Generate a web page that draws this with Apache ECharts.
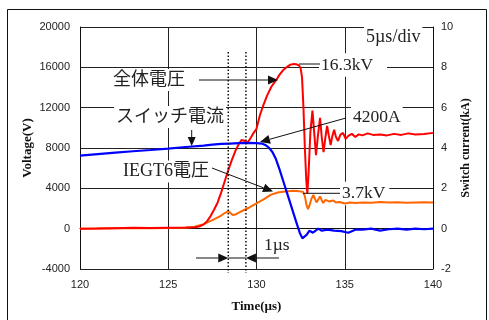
<!DOCTYPE html>
<html><head><meta charset="utf-8">
<script src="https://cdn.jsdelivr.net/npm/echarts@6/dist/echarts.min.js"></script>
<style>html,body{margin:0;padding:0;background:#fff}#c{width:489px;height:320px}</style>
</head><body><div id="c"></div>
<script>
// ---- data (time in µs) ----
const redTime = [120,121,122,123,124,125,126,126.5,126.8,127.0,127.2,127.4,127.6,127.8,128.0,128.2,128.4,128.6,128.8,129.0,129.15,129.25,129.35,129.47,129.6,129.8,130.0,130.2,130.4,130.6,130.85,131.1,131.32,131.5,131.7,131.9,132.07,132.25,132.4,132.5,132.58,132.66,132.74,132.82,132.88,132.95,133.05,133.17,133.27,133.37,133.48,133.6,133.7,133.8,133.9,134.0,134.1,134.2,134.3,134.4,134.5,134.62,134.75,134.9,135.05,135.2,135.4,135.6,135.8,136.0,136.3,136.6,137.0,137.4,137.8,138.2,138.6,139.0,139.5,140];
const redVoltage = [0,20,50,80,60,100,120,150,250,400,750,1250,1900,2600,3600,4700,5800,6800,7700,8400,8800,8950,8700,8500,8800,9400,9900,11300,12300,13200,14100,14700,15300,15700,16000,16250,16320,16300,16200,15900,15000,12000,8000,4800,3500,5500,9500,11700,9500,7300,9200,11000,9000,7600,9000,10200,9200,8300,9200,9800,9100,8700,9300,9500,8900,9200,9400,9100,9350,9250,9450,9300,9350,9250,9400,9300,9450,9350,9400,9500];

const blueTime = [120,121,122,123,124,125,126,127,127.5,128,128.5,129,129.5,130,130.3,130.5,130.7,130.9,131.1,131.3,131.5,131.7,131.9,132.1,132.3,132.45,132.6,132.7,132.85,133.0,133.1,133.2,133.35,133.5,133.7,134.0,134.4,134.8,135.2,135.6,136,136.5,137,137.5,138,138.5,139,139.5,140];
const blueCurrent = [3.62,3.70,3.77,3.84,3.90,3.97,4.05,4.12,4.17,4.20,4.22,4.24,4.25,4.24,4.22,4.15,4.02,3.80,3.45,2.95,2.40,1.85,1.30,0.75,0.20,-0.20,-0.48,-0.50,-0.30,-0.10,-0.05,-0.20,-0.10,0.00,-0.10,-0.05,-0.10,-0.12,-0.20,-0.05,-0.05,0.00,-0.10,-0.03,0.00,-0.05,0.00,-0.03,0.00];

const orangeTime = [120,122,124,125,126,126.5,127.0,127.5,128.0,128.2,128.4,128.5,128.65,128.8,129.0,129.3,129.6,130.0,130.4,130.8,131.2,131.5,131.8,132.1,132.4,132.64,132.74,132.84,132.92,133.0,133.1,133.22,133.3,133.4,133.5,133.6,133.7,133.78,133.9,134.0,134.1,134.2,134.35,134.5,134.7,135.0,135.3,135.6,136.0,136.5,137,137.5,138,138.5,139,139.5,140];
const orangeVoltage = [0,30,50,60,100,200,450,850,1300,1550,1750,1650,1350,1400,1600,1850,2100,2500,2900,3350,3580,3660,3700,3750,3720,3650,3200,2300,1950,2300,2900,3350,3000,2600,2900,3200,2800,2550,2850,2950,2700,2550,2800,2600,2650,2500,2600,2550,2600,2560,2650,2600,2620,2580,2600,2620,2600];

// axes
const timeTicks = [120,125,130,135,140];
const voltageTicks = [-4000,0,4000,8000,12000,16000,20000];
const currentTicks = [-2,0,2,4,6,8,10];
// dotted markers (µs)
const markerTimes = [128.4, 129.4];

const zip = (a,b)=>a.map((v,i)=>[v,b[i]]);
const serifJP = "'Liberation Serif','Noto Sans CJK JP'";
const axisFont = "'Liberation Sans', Arial, sans-serif";

const chart = echarts.init(document.getElementById('c'), null, {renderer:'canvas'});

function arrow(x1,y1,x2,y2,len,w){
  len = len||9; w = w||4;
  const dx=x2-x1, dy=y2-y1, d=Math.hypot(dx,dy), ux=dx/d, uy=dy/d;
  const bx=x2-ux*len, by=y2-uy*len;
  return [
    {type:'line', z:10, shape:{x1:x1,y1:y1,x2:bx,y2:by}, style:{stroke:'#111',lineWidth:1}},
    {type:'polygon', z:10, shape:{points:[[x2,y2],[bx-uy*w,by+ux*w],[bx+uy*w,by-ux*w]]}, style:{fill:'#111'}}
  ];
}
function label(text,x,y,size,pad){
  return {type:'text', z:1, x:x, y:y, style:{text:text, font:size+'px '+serifJP, fill:'#222', align:'left', verticalAlign:'middle', backgroundColor:'#fff', padding:pad||[2,2,2,2]}};
}
function seg(x1,y1,x2,y2){
  return {type:'line', z:10, shape:{x1:x1,y1:y1,x2:x2,y2:y2}, style:{stroke:'#111',lineWidth:1}};
}
const plain = v => String(v);

const option = {
  animation:false,
  backgroundColor:'#fff',
  grid:{left:80, right:56, top:27, bottom:51},
  xAxis:{
    type:'value', min:timeTicks[0], max:timeTicks[timeTicks.length-1], interval:5,
    name:'Time(µs)', nameLocation:'middle', nameGap:31.5, nameMoveOverlap:false,
    nameTextStyle:{fontFamily:'Liberation Serif', fontWeight:'bold', fontSize:13, color:'#111'},
    axisLine:{lineStyle:{color:'#111', width:1}},
    axisTick:{show:false},
    axisLabel:{fontFamily:axisFont, fontSize:11, color:'#222', margin:10, formatter:plain},
    splitLine:{show:true, lineStyle:{color:'#222', width:1}}
  },
  yAxis:[{
    type:'value', min:voltageTicks[0], max:voltageTicks[voltageTicks.length-1], interval:4000,
    name:'Voltage(V)', nameLocation:'middle', nameGap:46, nameRotate:90, nameMoveOverlap:false,
    nameTextStyle:{fontFamily:'Liberation Serif', fontWeight:'bold', fontSize:13, color:'#111'},
    axisLine:{show:true, lineStyle:{color:'#111', width:1}},
    axisTick:{show:false},
    axisLabel:{fontFamily:axisFont, fontSize:11, color:'#222', margin:10, formatter:plain},
    splitLine:{show:true, lineStyle:{color:'#222', width:1}}
  },{
    type:'value', min:currentTicks[0], max:currentTicks[currentTicks.length-1], interval:2,
    name:'Switch current(kA)', nameLocation:'middle', nameGap:26.5, nameRotate:90, nameMoveOverlap:false,
    nameTextStyle:{fontFamily:'Liberation Serif', fontWeight:'bold', fontSize:12, color:'#111'},
    axisLine:{show:true, lineStyle:{color:'#111', width:1}},
    axisTick:{show:false},
    axisLabel:{fontFamily:axisFont, fontSize:11, color:'#222', margin:8, formatter:plain},
    splitLine:{show:false}
  }],
  series:[
    {name:'IEGT6電圧', type:'line', yAxisIndex:0, data:zip(orangeTime,orangeVoltage), showSymbol:false, lineStyle:{color:'#ff6600', width:2}, z:3},
    {name:'全体電圧', type:'line', yAxisIndex:0, data:zip(redTime,redVoltage), showSymbol:false, lineStyle:{color:'#ff0000', width:2}, z:4},
    {name:'スイッチ電流', type:'line', yAxisIndex:1, data:zip(blueTime,blueCurrent), showSymbol:false, lineStyle:{color:'#0000ff', width:2.2}, z:5}
  ]
};
chart.setOption(option);

const mx = markerTimes.map(t=>chart.convertToPixel({xAxisIndex:0}, t));
let g = [
  {type:'rect', z:0, shape:{x:7.5, y:9.5, width:479, height:330}, style:{fill:null, stroke:'#111', lineWidth:1}},
  label('5µs/div', 364, 37, 18),
  label('16.3kV', 319, 65, 17.5, [3,14,3,2]),
  label('全体電圧', 111, 80, 18),
  label('スイッチ電流', 114, 117, 18),
  label('4200A', 351, 117.5, 17.5),
  label('IEGT6電圧', 121, 171.5, 18),
  label('3.7kV', 340, 193.5, 17.5, [3,4,3,2]),
  label('1µs', 262, 245, 17.5),
  seg(299,64,320,64),
  seg(303,193.3,340,193.3),
  seg(mx[0],258,mx[1],258)
];
g = g.concat(arrow(199,80,278,80,10,4.5));
g = g.concat(arrow(191.7,130,191.7,146,9,4));
g = g.concat(arrow(346,118,260,142,10,4.5));
g = g.concat(arrow(212,168,273,191.5,10,4.5));
g = g.concat(arrow(196,258,mx[0],258,10,4.5));
g = g.concat(arrow(279,258,mx[1],258,10,4.5));
mx.forEach(x=>{
  g.push({type:'line', z:10, shape:{x1:x,y1:52,x2:x,y2:273}, style:{stroke:'#111',lineWidth:1.5,lineDash:[1.5,2]}});
});
chart.setOption({graphic:{elements:g}});
</script>
</body></html>
